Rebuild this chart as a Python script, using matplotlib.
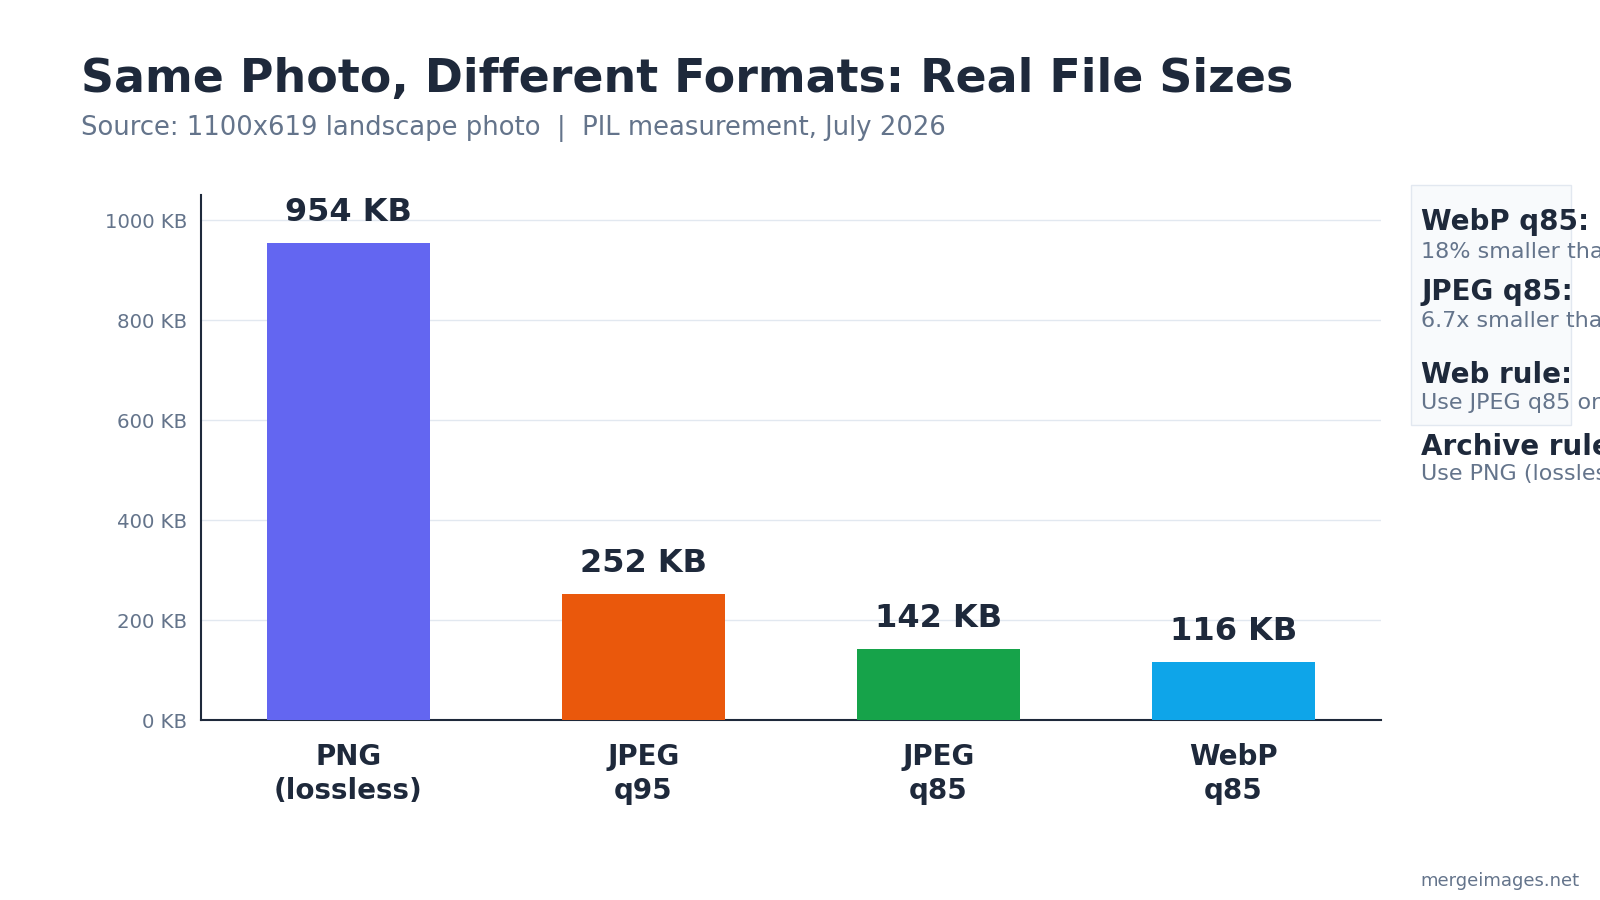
import matplotlib
matplotlib.use("Agg")
import matplotlib.pyplot as plt
from matplotlib.patches import Rectangle

# -------- Data --------
formats = ["PNG\n(lossless)", "JPEG\nq95", "JPEG\nq85", "WebP\nq85"]
sizes_kb = [954, 252, 142, 116]
bar_colors = ["#6366f1", "#ea580c", "#16a34a", "#0ea5e9"]
yticks_kb = [0, 200, 400, 600, 800, 1000]

notes = [
    ("WebP q85:", "18% smaller than JPEG q85"),
    ("JPEG q85:", "6.7x smaller than PNG"),
    ("Web rule:", "Use JPEG q85 or WebP q85"),
    ("Archive rule:", "Use PNG (lossless)"),
]

DARK = "#1e293b"
MUTED = "#64748b"

# -------- Figure --------
fig = plt.figure(figsize=(16, 9), dpi=100)
ax = fig.add_axes([0.1256, 0.2, 0.7375, 0.5833])

x = list(range(len(formats)))
ax.bar(x, sizes_kb, width=0.55, color=bar_colors, zorder=3)

for xi, v in zip(x, sizes_kb):
    ax.annotate(f"{v} KB", (xi, v), xytext=(0, 22), textcoords="offset points",
                ha="center", va="center", fontsize=23, fontweight="bold", color=DARK)

ax.set_xlim(-0.5, 3.5)
ax.set_ylim(0, 1050)
ax.set_xticks(x)
ax.set_xticklabels(formats, fontsize=20, fontweight="bold", color=DARK, linespacing=1.28)
ax.set_yticks(yticks_kb)
ax.set_yticklabels([f"{t} KB" for t in yticks_kb], fontsize=14.2, color=MUTED)
ax.tick_params(axis="both", length=0)
ax.tick_params(axis="y", pad=10)
ax.tick_params(axis="x", pad=16.5)

ax.grid(axis="y", color="#e2e8f0", linewidth=1, zorder=0)
for side in ["top", "right"]:
    ax.spines[side].set_visible(False)
for side in ["left", "bottom"]:
    ax.spines[side].set_color(DARK)
    ax.spines[side].set_linewidth(1.5)

# -------- Titles --------
fig.text(0.0505, 0.912, "Same Photo, Different Formats: Real File Sizes",
         fontsize=33, fontweight="bold", color=DARK, va="center", ha="left")
fig.text(0.0505, 0.857, "Source: 1100x619 landscape photo  |  PIL measurement, July 2026",
         fontsize=18.6, color=MUTED, va="center", ha="left")

# -------- Side notes (run off the right edge, as in the source) --------
fig.patches.append(Rectangle((1411 / 1600, 1 - 425 / 900), 160 / 1600, 240 / 900,
                             transform=fig.transFigure, facecolor="#f8fafc",
                             edgecolor="#e2e8f0", linewidth=1, zorder=0))
head_y = [222, 292, 375, 447]
body_y = [252, 321, 403, 474]
for (head, body), hy, by in zip(notes, head_y, body_y):
    fig.text(1421 / 1600, 1 - hy / 900, head, fontsize=20, fontweight="bold",
             color=DARK, va="center", ha="left")
    fig.text(1421 / 1600, 1 - by / 900, body, fontsize=16, color=MUTED,
             va="center", ha="left")

fig.text(1579 / 1600, 1 - 881 / 900, "mergeimages.net", fontsize=13,
         color=MUTED, va="center", ha="right")

fig.savefig("out.png", dpi=100, facecolor="white")
